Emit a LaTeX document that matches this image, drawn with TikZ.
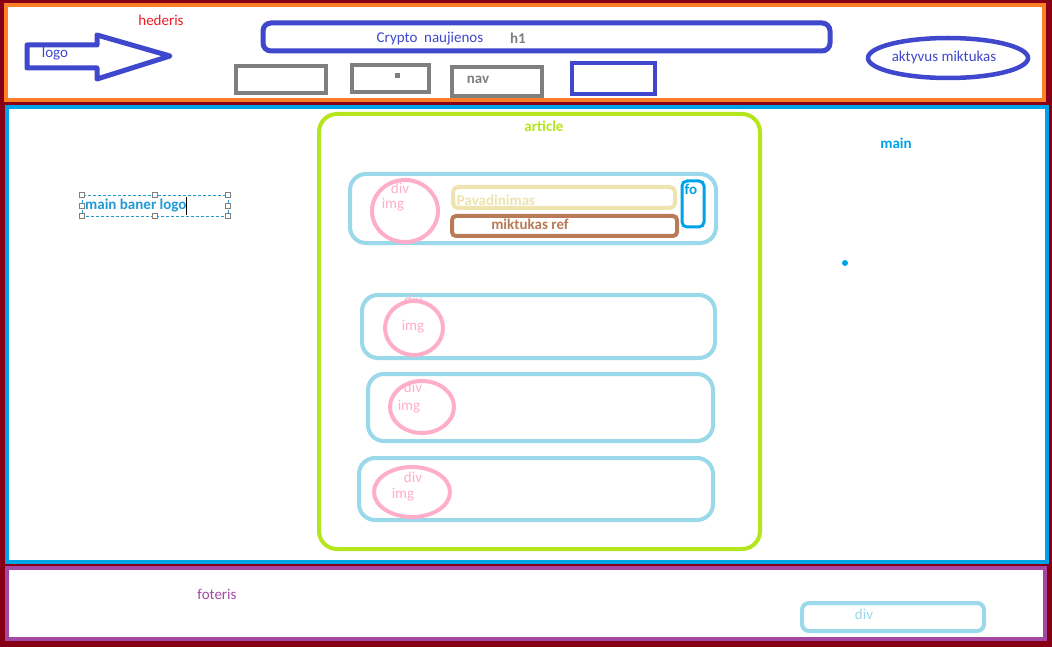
\documentclass[tikz,border=0pt]{standalone}
\usepackage{fontspec}
\setmainfont{Carlito}
\definecolor{dred}{HTML}{880015}
\definecolor{orng}{HTML}{FF7F27}
\definecolor{mblue}{HTML}{00A2E8}
\definecolor{purp}{HTML}{A349A4}
\definecolor{pblue}{HTML}{3F48CC}
\definecolor{gry}{HTML}{7F7F7F}
\definecolor{grn}{HTML}{B5E61D}
\definecolor{lblue}{HTML}{99D9EA}
\definecolor{pnk}{HTML}{FFAEC9}
\definecolor{crm}{HTML}{EFE4B0}
\definecolor{brn}{HTML}{B97A57}
\definecolor{rd}{HTML}{ED1C24}
\definecolor{txtblue}{HTML}{1E9BD7}
\begin{document}
\begin{tikzpicture}[x=1pt,y=-1pt,
  lbl/.style={inner sep=0pt, font=\fontsize{15}{17}\selectfont},
  blbl/.style={inner sep=0pt, font=\fontsize{15}{17}\selectfont\bfseries},
  frame/.style={line width=4pt, fill=white},
  greybox/.style={draw=gry, line width=4pt},
  card/.style={draw=lblue, line width=4pt, rounded corners=16pt},
  imgcirc/.style={draw=pnk, line width=4pt},
  handle/.style={draw=gry, fill=white, line width=0.8pt, minimum size=5pt, inner sep=0pt}
]
\useasboundingbox (0,0) rectangle (1052,647);
\fill[dred] (0,0) rectangle (1052,647);
% header
\draw[frame, draw=orng] (5.5,5) rectangle (1044,100.5);
% main
\draw[frame, draw=mblue] (7,107) rectangle (1047,562);
% footer
\draw[frame, draw=purp] (7,568) rectangle (1045,639);

% header content
\node[lbl, text=rd] (hederis) at (161,20) {hederis};
\draw[draw=pblue, line width=5pt, line join=round] (27,45) -- (97,45) -- (97,35) -- (170,56) -- (97,79) -- (97,68) -- (27,68) -- cycle;
\node[lbl, text=pblue] (logo) at (55,54) {logo};
\draw[draw=pblue, line width=5pt, rounded corners=8pt] (263,23) rectangle (830,51);
\node[lbl, text=pblue] (crypto) at (430,39) {Crypto\ \ naujienos};
\node[blbl, text=gry] (h1) at (518,38) {h1};
\draw[greybox] (236,66) rectangle (326,93);
\draw[greybox] (352,65) rectangle (429,92);
\fill[gry] (394.5,73.5) rectangle (399.5,78.5);
\draw[greybox] (452,67) rectangle (542,96);
\node[blbl, text=gry] (nav) at (478,80) {nav};
\draw[draw=pblue, line width=4pt] (572,63) rectangle (655,94);
\draw[draw=pblue, line width=4.5pt] (948,58) ellipse [x radius=80pt, y radius=20pt];
\node[lbl, text=pblue] (akt) at (944,58) {aktyvus miktukas};

% main content
\node[blbl, text=mblue] (main) at (896,143) {main};
\fill[mblue] (845,263) circle [radius=3pt];
\draw[draw=txtblue, dashed, line width=0.8pt, dash pattern=on 3pt off 2pt] (82,195) rectangle (228,216);
\node[blbl, text=txtblue, anchor=west] (mbl) at (85,206) {main baner logo};
\draw[black, line width=1pt] (186,197) -- (186,215);
\foreach \hx in {82,155,228} {
  \node[handle] at (\hx,195) {};
  \node[handle] at (\hx,216) {};
}
\node[handle] at (82,205.5) {};
\node[handle] at (228,205.5) {};

% article
\draw[draw=grn, line width=4pt, rounded corners=18pt] (319,114) rectangle (760,549);
\node[blbl, text=grn] (article) at (544,126) {article};

% card 1
\draw[card] (350,174) rectangle (716,243);
\node[lbl, text=pnk] (div1) at (400,188) {div};
\draw[imgcirc] (405,211) ellipse [x radius=33pt, y radius=31pt];
\node[lbl, text=pnk] (img1) at (393,205) {img};
\draw[draw=crm, line width=4pt, rounded corners=5pt] (453,187) rectangle (675,208);
\node[blbl, text=crm] (pav) at (496,200) {Pavadinimas};
\draw[draw=brn, line width=4pt, rounded corners=4pt] (452,216) rectangle (677,236);
\node[blbl, text=brn] (mref) at (530,224) {miktukas ref};
\draw[draw=mblue, line width=3pt, rounded corners=5pt] (682,181) rectangle (704,227);
\node[blbl, text=mblue] (fo) at (691,189) {fo};

% card 2
\draw[card] (362,295) rectangle (715,358);
\node[lbl, text=pnk] (div2) at (413,300) {div};
\draw[imgcirc, fill=white] (414,328) ellipse [x radius=29pt, y radius=27pt];
\node[lbl, text=pnk] (img2) at (413,327) {img};

% card 3
\draw[card] (368,374) rectangle (713,441);
\node[lbl, text=pnk] (div3) at (413,387) {div};
\draw[imgcirc] (422,407) ellipse [x radius=32pt, y radius=26pt];
\node[lbl, text=pnk] (img3) at (409,407) {img};

% card 4
\draw[card] (359,458) rectangle (713,520);
\node[lbl, text=pnk] (div4) at (413,477) {div};
\draw[imgcirc] (412,492) ellipse [x radius=38pt, y radius=25pt];
\node[lbl, text=pnk] (img4) at (403,495) {img};

% footer content
\node[lbl, text=purp] (foteris) at (217,594) {foteris};
\draw[draw=lblue, line width=4pt, rounded corners=7pt] (802,603) rectangle (984,631);
\node[lbl, text=lblue] (fdiv) at (864,614) {div};
\end{tikzpicture}
\end{document}
